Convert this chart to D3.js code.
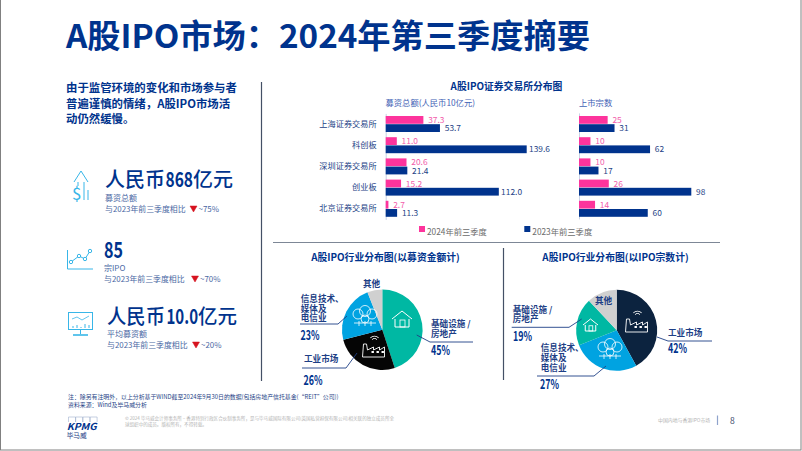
<!DOCTYPE html>
<html><head><meta charset="utf-8">
<script src="https://cdn.jsdelivr.net/npm/d3@7"></script>
<style>html,body{margin:0;padding:0;background:#fff}svg{display:block}text{font-family:"Noto Sans CJK SC","Noto Sans",sans-serif}</style>
</head><body><svg id="c" width="802" height="451"></svg>
<script>
const exchanges=["上海证券交易所","科创板","深圳证券交易所","创业板","北京证券交易所"];
const raised2024=[37.3,11.0,20.6,15.2,2.7];
const raised2023=[53.7,139.6,21.4,112.0,11.3];
const listed2024=[25,10,10,26,14];
const listed2023=[31,62,17,98,60];
const seriesNames=["2024年前三季度","2023年前三季度"];
const pieFundLabels=["基础设施/房地产","工业市场","信息技术、媒体及电信业","其他"];
const pieFundValues=[45,26,23,6];
const pieCountLabels=["工业市场","信息技术、媒体及电信业","基础设施/房地产","其他"];
const pieCountValues=[42,27,19,12];

const NAVY="#00338D",DARK="#0C233F",PINK="#FD349C",BLUE="#00A3E1",TEAL="#00B8A3",GREY="#D0D0D0",LINK="#1E3F86",ICON="#38B6E8",SUB="#4A68A4";
const svg=d3.select("#c");
function T(x,y,s,size,fill,o={}){
  const t=svg.append("text").attr("x",x).attr("y",y).attr("font-size",size).attr("fill",fill)
    .attr("font-weight",o.w||400).attr("text-anchor",o.a||"start").text(s);
  if(o.len){t.attr("textLength",o.len).attr("lengthAdjust","spacingAndGlyphs");}
  return t;
}
function L(pts,stroke,w=1,fill="none"){
  return svg.append("path").attr("d",d3.line()(pts)).attr("stroke",stroke).attr("stroke-width",w).attr("fill",fill);
}
svg.append("rect").attr("x",.5).attr("y",-2).attr("width",800.5).attr("height",452).attr("fill","#fff").attr("stroke","#808080");

T(66,48,"A股IPO市场：2024年第三季度摘要",32.4,NAVY,{w:700,len:524});

["由于监管环境的变化和市场参与者","普遍谨慎的情绪，A股IPO市场活","动仍然缓慢。"].forEach((s,i)=>T(66,92+i*15.6,s,11.4,NAVY,{w:700}));

L([[261.5,82],[261.5,381]],"#445066",1.2);
L([[273,242.5],[720,242.5]],"#7D8796",1.2);
L([[503.5,248],[503.5,380]],"#445066",1.2);

// KPI blocks
T(105,186.5,"人民币",20,NAVY,{w:500,len:60});
T(165.5,186.5,"868",20.5,NAVY,{w:700,len:27.5});
T(193,186.5,"亿元",20,NAVY,{w:500,len:40});
T(105,201,"募资总额",8,SUB);
T(105,212,"与2023年前三季度相比",7.9,SUB);
T(104,258,"85",22,NAVY,{w:700,len:19});
T(104,271,"宗IPO",8,SUB);
T(104,282,"与2023年前三季度相比",7.9,SUB);
T(107,323.5,"人民币",20,NAVY,{w:500,len:58});
T(166.5,323.5,"10.0",20.5,NAVY,{w:700,len:31.5});
T(198,323.5,"亿元",20,NAVY,{w:500,len:39});
T(107,336.5,"平均募资额",8,SUB);
T(107,348,"与2023年前三季度相比",7.9,SUB);
[[190,212,"~75%"],[191.5,282,"~70%"],[192.5,348,"~20%"]].forEach(([x,y,s])=>{
  L([[x,y-6],[x+7,y-6],[x+3.5,y],[x,y-6]],"#D6131F",.5,"#D6131F");
  T(x+8.5,y,s,7.9,SUB);
});

// icons
function icon1(){
  L([[74,182],[81,171],[88,182]],ICON,1);L([[78,182],[78,186]],ICON,1);L([[84,182],[84,200]],ICON,1);
  L([[88,190],[88,200]],ICON,1);
  T(72,200,"$",17,ICON);
}
function icon2(){
  L([[67.5,250],[67.5,269],[93,269]],ICON,1);
  const p=[[71,262],[79,256],[85,259],[90,251]];
  L(p,ICON,1);p.forEach(q=>svg.append("circle").attr("cx",q[0]).attr("cy",q[1]).attr("r",1.7).attr("fill","#fff").attr("stroke",ICON));
}
function icon3(){
  svg.append("rect").attr("x",68.5).attr("y",312.5).attr("width",24).attr("height",17).attr("fill","none").attr("stroke",ICON);
  L([[72,319],[77,317],[82,320],[89,316]],ICON,.8);
  [[73,326],[77,325],[81,327],[85,324],[89,325]].forEach(q=>L([[q[0],328],q],ICON,1));
  L([[80.5,330],[80.5,334]],ICON,1);L([[73,335],[88,335]],ICON,1.6);
}
icon1();icon2();icon3();

// bars chart
T(506.5,90,"A股IPO证券交易所分布图",9.8,NAVY,{w:700,a:"middle"});
T(385.5,106,"募资总额(人民币10亿元)",8.3,"#3F62B5");
T(579,106,"上市宗数",8.3,"#3F62B5");

const yRow=d3.scaleBand().domain(exchanges).range([113.4,219.4]).padding(0);
const xL=d3.scaleLinear().domain([0,139.6]).range([385.7,526.7]);
const xR=d3.scaleLinear().domain([0,98]).range([579,691.3]);
const barH=7.8;

svg.append("g").attr("transform","translate(385.7,0)")
  .call(d3.axisLeft(yRow).tickSize(0).tickPadding(9))
  .call(g=>g.select(".domain").attr("stroke","#C9D3E6"))
  .call(g=>g.selectAll("text").attr("font-size",8.2).attr("fill",LINK));
svg.append("path").attr("d",`M579.5,113.4V219.4`).attr("stroke","#C9D3E6");

function bars(x,a,b,fmt){
  [[a,PINK,-barH-.2],[b,NAVY,.2]].forEach(([vals,col,off],si)=>{
    svg.append("g").selectAll("rect").data(vals).join("rect")
      .attr("x",x(0)).attr("y",(d,i)=>yRow(exchanges[i])+yRow.bandwidth()/2+off)
      .attr("width",d=>x(d)-x(0)).attr("height",barH).attr("fill",col);
    svg.append("g").selectAll("text").data(vals).join("text")
      .attr("x",d=>x(d)+(d>=100?2.3:4.8)).attr("y",(d,i)=>yRow(exchanges[i])+yRow.bandwidth()/2+off+barH/2+3)
      .attr("font-size",8.4).attr("fill",si?LINK:"#F25CAB").text(fmt);
  });
}
bars(xL,raised2024,raised2023,d=>d.toFixed(1));
bars(xR,listed2024,listed2023,d=>d);

svg.append("rect").attr("x",419).attr("y",226).attr("width",6).attr("height",6).attr("fill",PINK);
T(427,235,seriesNames[0],8.3,"#6B6B6B");
svg.append("rect").attr("x",524.3).attr("y",226).attr("width",6).attr("height",6).attr("fill",NAVY);
T(532.3,235,seriesNames[1],8.3,"#6B6B6B");

// pies
function pie(cx,cy,r,vals,cols){
  const arcs=d3.pie().sort(null)(vals),arc=d3.arc().innerRadius(0).outerRadius(r);
  svg.append("g").attr("transform",`translate(${cx},${cy})`).selectAll("path").data(arcs).join("path").attr("d",arc).attr("fill",(d,i)=>cols[i]);
}
T(385.5,260.5,"A股IPO行业分布图(以募资金额计)",9.8,NAVY,{w:700,a:"middle"});
T(615.5,260.5,"A股IPO行业分布图(以IPO宗数计)",9.8,NAVY,{w:700,a:"middle"});
pie(382.3,329.7,40.3,pieFundValues,[TEAL,"#050505",BLUE,GREY]);
pie(616.7,330.3,40.5,pieCountValues,[DARK,BLUE,TEAL,GREY]);

// pie icons
function house(x,y,k=1,c="#fff"){
  L([[x-10*k,y],[x,y-8*k],[x+10*k,y]],c,1);L([[x-7*k,y],[x-7*k,y+8*k],[x+7*k,y+8*k],[x+7*k,y]],c,1);
  svg.append("rect").attr("x",x-2*k).attr("y",y+1*k).attr("width",5*k).attr("height",7*k).attr("fill","none").attr("stroke",c).attr("stroke-width",.8);
}
function factory(x,y){
  L([[x-11,y+10],[x-10,y-3],[x-7,y-3],[x-6,y+3],[x,y],[x,y+3],[x+6,y],[x+6,y+3],[x+11,y],[x+11,y+10],[x-11,y+10]],"#fff",.9);
  [[-2,4],[3,4],[8,4]].forEach(q=>svg.append("rect").attr("x",x+q[0]).attr("y",y+q[1]).attr("width",2.4).attr("height",2).attr("fill","#fff"));
  [3,5.5].forEach(r=>svg.append("path").attr("d",d3.arc().innerRadius(r).outerRadius(r+.7).startAngle(-.8).endAngle(.8)()).attr("transform",`translate(${x+1},${y-5})`).attr("fill","#fff"));
}
function cloud(x,y){
  [[-7,-2,5],[0,-5,5.5],[7,-2,5],[0,3,4]].forEach(q=>svg.append("circle").attr("cx",x+q[0]).attr("cy",y+q[1]).attr("r",q[2]).attr("fill","none").attr("stroke","#fff").attr("stroke-width",.8));
  [-6,0,6].forEach(d=>L([[x+d,y+5],[x+d,y+10]],"#fff",.8));
  L([[x-11,y+7],[x+11,y+7]],"#fff",.8);
}
house(402,319);factory(373.5,347);cloud(365,316);
factory(636.5,322);cloud(610,349);house(590.5,325,.75);

// pie labels
const lab=(x,y,s,sz=8.6)=>T(x,y,s,sz,LINK,{w:700});
const pct=(x,y,s,len)=>T(x,y,s,13.5,NAVY,{w:700,len});
lab(431,327,"基础设施 /");lab(431,337,"房地产");pct(431,355,"45%",19);
L([[416.7,335],[430,342],[473,342]],LINK,.9);
lab(363,286.5,"其他");
lab(300.7,302,"信息技术、");lab(300.7,311.5,"媒体及");lab(300.7,321,"电信业");pct(300.5,340,"23%",19);
L([[300,324],[338,324],[347,316]],LINK,.9);
lab(304,362,"工业市场");pct(303.5,385,"26%",19);
L([[302,368],[346,368],[357,353]],LINK,.9);

lab(512.7,313,"基础设施 /");lab(512.7,322,"房地产");pct(513,341,"19%",19);
L([[511.7,327.3],[569,327.3],[581.7,319]],LINK,.9);
lab(595,303.5,"其他");
lab(668,336,"工业市场");pct(668,353,"42%",19);
L([[657,337],[668,341],[712,341]],LINK,.9);
lab(540.7,351,"信息技术、");lab(540.7,361,"媒体及");lab(540.7,371,"电信业");pct(540,389,"27%",19);
L([[537,376],[594,376],[606,366]],LINK,.9);

// notes
T(68,399,"注：除另有注明外，以上分析基于WIND截至2024年9月30日的数据(包括房地产信托基金(“REIT”公司))",5.9,LINK);
T(68,406.5,"资料来源：Wind及毕马威分析",5.9,LINK);
T(125,420,"© 2024 毕马威会计师事务所 – 香港特别行政区合伙制事务所，是与毕马威国际有限公司(英国私营担保有限公司)相关联的独立成员所全",4.55,"#B4B4B4");
T(125,426,"球组织中的成员。版权所有，不得转载。",4.55,"#B4B4B4");
[68,75.2,82.4,89.6].forEach(x=>L([[x+.5,422],[x+.5,417],[x+7.5,417],[x+7.5,422]],"#9FB0CF",.6));
T(66.7,429.5,"KPMG",9.5,NAVY,{w:700,len:30}).attr("font-style","italic");
T(66.7,438,"毕马威",6.7,LINK);
T(658,422,"中国内地与香港IPO市场",4.9,"#B4B4B4");
L([[717.5,415.5],[717.5,425]],"#8FA3CC",1.2);
T(730,424,"8",8.5,"#3A4A6B");
</script></body></html>
